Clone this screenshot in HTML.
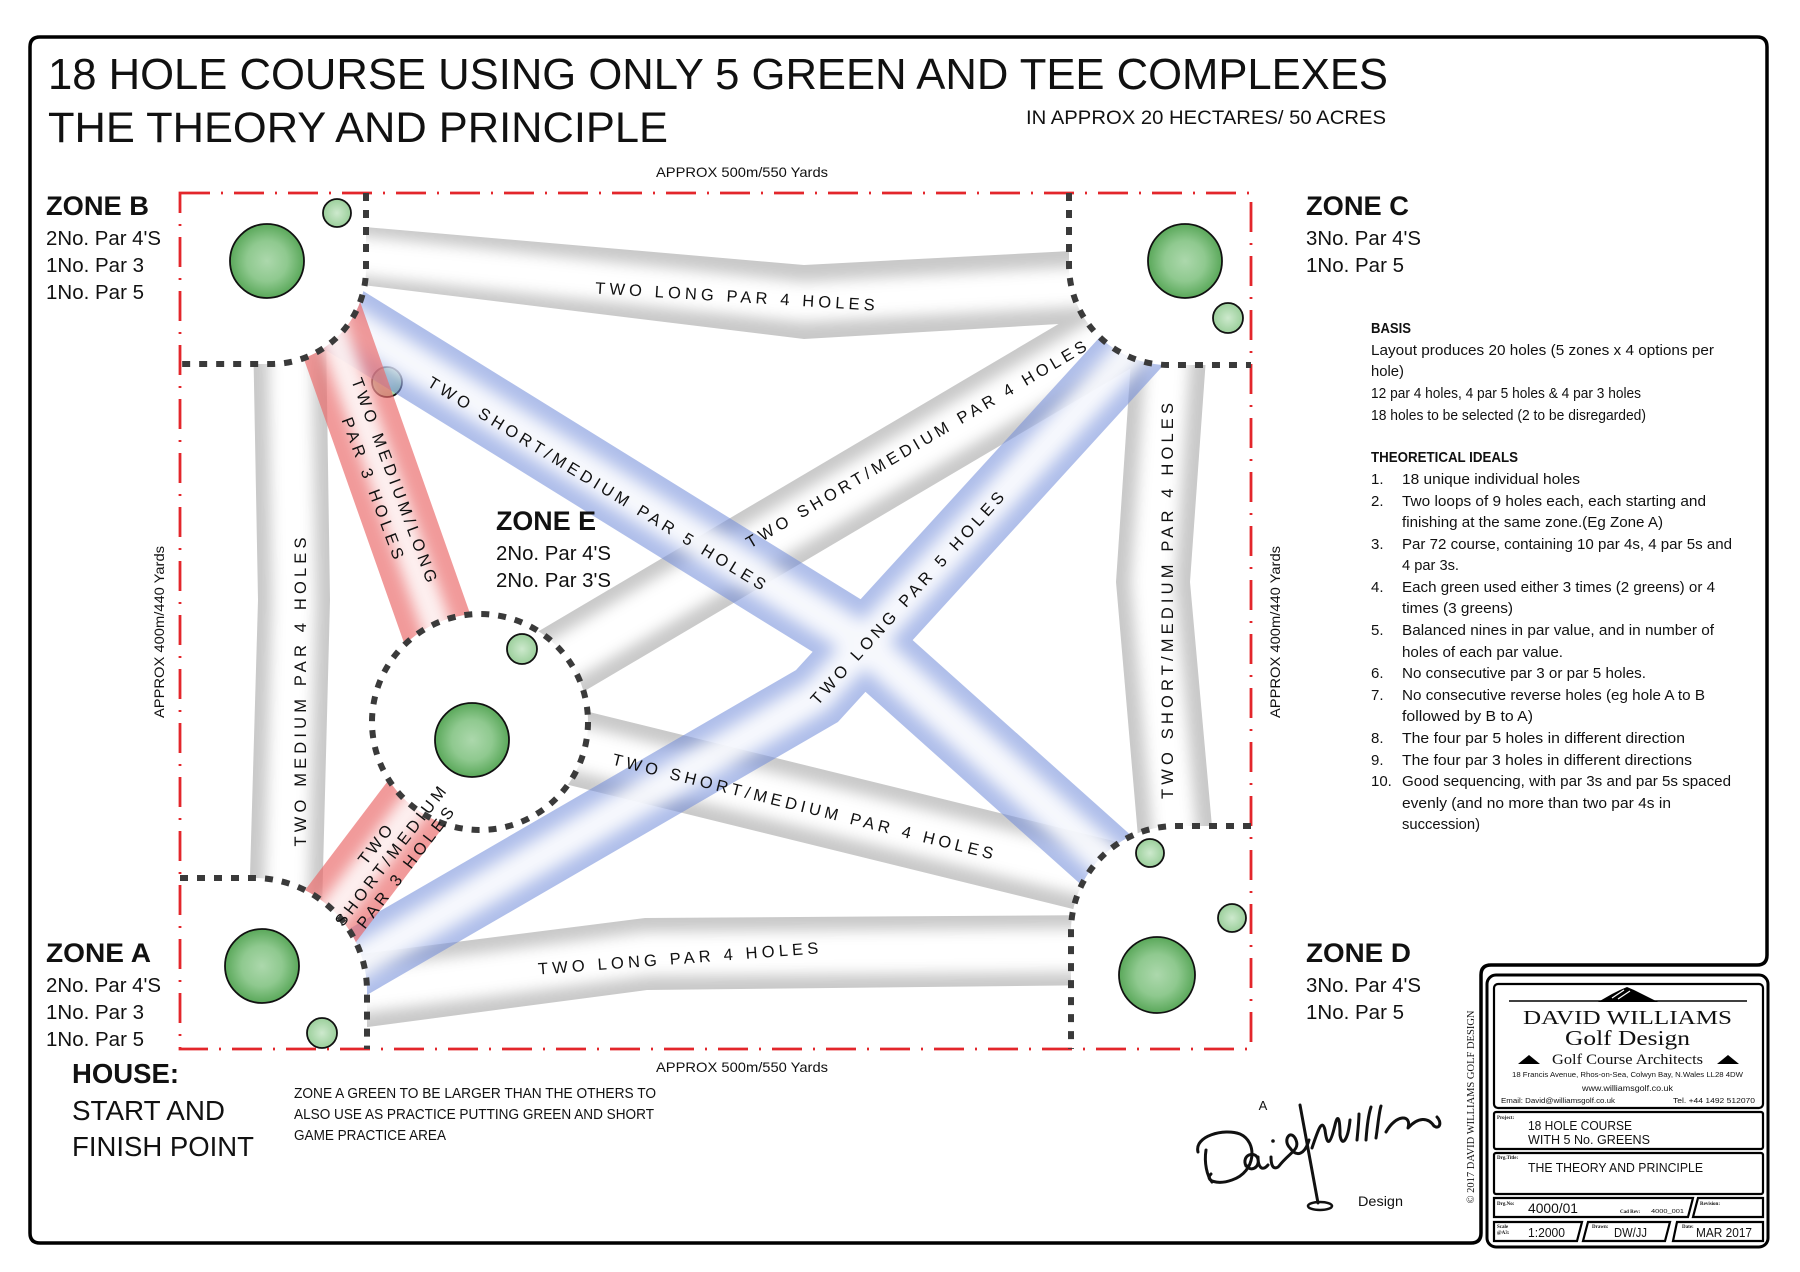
<!DOCTYPE html>
<html><head><meta charset="utf-8"><style>
html,body{margin:0;padding:0;background:#fff;}
svg{display:block;}
text{font-family:"Liberation Sans",sans-serif;fill:#111;}
.lbl{font-size:16.5px;}
</style></head><body>
<svg xmlns="http://www.w3.org/2000/svg" width="1800" height="1272" viewBox="0 0 1800 1272">
<defs>
<filter id="bl" filterUnits="userSpaceOnUse" x="0" y="0" width="1800" height="1272"><feGaussianBlur stdDeviation="7"/></filter>
<filter id="bl2" filterUnits="userSpaceOnUse" x="0" y="0" width="1800" height="1272"><feGaussianBlur stdDeviation="8"/></filter>
<radialGradient id="gr" cx="50%" cy="50%" r="50%"><stop offset="0" stop-color="#acd8ac"/><stop offset="0.55" stop-color="#8fc98f"/><stop offset="1" stop-color="#5aa85a"/></radialGradient>
<radialGradient id="tg" cx="50%" cy="50%" r="50%"><stop offset="0" stop-color="#cde9cd"/><stop offset="1" stop-color="#9bcf9b"/></radialGradient>
</defs>
<rect width="1800" height="1272" fill="#fff"/>

<path d="M40,37 H1757 Q1767,37 1767,47 V955 Q1767,965 1757,965 H1491 Q1481,965 1481,975 V1233 Q1481,1243 1471,1243 H40 Q30,1243 30,1233 V47 Q30,37 40,37 Z" fill="none" stroke="#000" stroke-width="3.5"/>

<text x="48" y="89" font-size="44" textLength="1340" lengthAdjust="spacingAndGlyphs">18 HOLE COURSE USING ONLY 5 GREEN AND TEE COMPLEXES</text>
<text x="48" y="142" font-size="43" textLength="620" lengthAdjust="spacingAndGlyphs">THE THEORY AND PRINCIPLE</text>
<text x="1026" y="124" font-size="19" textLength="360" lengthAdjust="spacingAndGlyphs">IN APPROX 20 HECTARES/ 50 ACRES</text>
<text x="656" y="177" font-size="14" textLength="172" lengthAdjust="spacingAndGlyphs">APPROX 500m/550 Yards</text>
<text x="656" y="1072" font-size="14" textLength="172" lengthAdjust="spacingAndGlyphs">APPROX 500m/550 Yards</text>
<text transform="translate(164,632) rotate(-90)" text-anchor="middle" font-size="14" textLength="172" lengthAdjust="spacingAndGlyphs">APPROX 400m/440 Yards</text>
<text transform="translate(1280,632) rotate(-90)" text-anchor="middle" font-size="14" textLength="172" lengthAdjust="spacingAndGlyphs">APPROX 400m/440 Yards</text>

<circle cx="387" cy="382" r="15" fill="url(#tg)" stroke="#111" stroke-width="1.8"/>

<g fill="#c9c9c9">
<polygon points="330,224 804,265 1110,249 1110,321 804,339 330,281"/>
<polygon points="330,958 645,918 1110,915 1110,985 647,990 330,1032"/>
<polygon points="253,330 258,600 249,910 322,910 330,600 326,330"/>
<polygon points="1133,330 1116,582 1140,860 1215,860 1190,582 1208,330"/>
<polygon points="500,654 1150,270 1150,357 500,741"/>
<polygon points="520,695 1150,850 1150,928 520,773"/>
</g>
<g filter="url(#bl)" fill="none" stroke="#fff" stroke-linejoin="miter">
<polyline points="330,253 804,302 1110,285" stroke-width="40"/>
<polyline points="330,995 646,954 1110,950" stroke-width="44"/>
<polyline points="290,330 294,600 286,910" stroke-width="44"/>
<polyline points="1170,330 1153,582 1177,860" stroke-width="44"/>
<polyline points="500,697 1150,313" stroke-width="46"/>
<polyline points="520,734 1150,889" stroke-width="46"/>
</g>

<g opacity="0.55" fill="none" stroke="#6f8ad9" stroke-linejoin="miter">
<polyline points="300,293 860,640 1125,877" stroke-width="70"/>
<polyline points="320,984 817,696 1150,331" stroke-width="66"/>
</g>
<g opacity="0.9" filter="url(#bl2)" fill="none" stroke="#fff">
<polyline points="300,293 860,640 1125,877" stroke-width="36"/>
<polyline points="320,984 817,696 1150,331" stroke-width="34"/>
</g>

<g opacity="0.68" fill="none" stroke="#ea6a6a">
<polyline points="310,268 450,665" stroke-width="72"/>
<polyline points="455,752 301,955" stroke-width="72"/>
</g>
<g opacity="0.85" filter="url(#bl)" fill="none" stroke="#fff">
<polyline points="310,268 450,665" stroke-width="30"/>
<polyline points="455,752 301,955" stroke-width="30"/>
</g>

<g fill="#fff">
<path d="M180,193 H366 V269 A95,95 0 0 1 271,364 H180 Z"/>
<path d="M1251,193 H1069 V265 A100,100 0 0 0 1169,365 H1251 Z"/>
<path d="M180,878 H254 A113,113 0 0 1 367,991 V1049 H180 Z"/>
<path d="M1251,826 H1176 A105,105 0 0 0 1071,931 V1049 H1251 Z"/>
<circle cx="480" cy="722" r="108"/>
</g>

<rect x="180" y="193" width="1071" height="856" fill="none" stroke="#e3262b" stroke-width="2.8" stroke-dasharray="30 11 2 11"/>

<g fill="none" stroke="#3a3a3a" stroke-width="6" stroke-dasharray="8 9">
<path d="M366,193 V269 A95,95 0 0 1 271,364 H180"/>
<path d="M1069,193 V265 A100,100 0 0 0 1169,365 H1251"/>
<path d="M180,878 H254 A113,113 0 0 1 367,991 V1049"/>
<path d="M1251,826 H1176 A105,105 0 0 0 1071,931 V1049"/>
<circle cx="480" cy="722" r="108"/>
</g>

<g stroke="#111" stroke-width="1.8">
<circle cx="267" cy="261" r="37" fill="url(#gr)"/>
<circle cx="1185" cy="261" r="37" fill="url(#gr)"/>
<circle cx="262" cy="966" r="37" fill="url(#gr)"/>
<circle cx="1157" cy="975" r="38" fill="url(#gr)"/>
<circle cx="472" cy="740" r="37" fill="url(#gr)"/>
<circle cx="337" cy="213" r="14" fill="url(#tg)"/>
<circle cx="1228" cy="318" r="15" fill="url(#tg)"/>
<circle cx="322" cy="1033" r="15" fill="url(#tg)"/>
<circle cx="1150" cy="853" r="14" fill="url(#tg)"/>
<circle cx="1232" cy="918" r="14" fill="url(#tg)"/>
<circle cx="522" cy="649" r="15" fill="url(#tg)"/>
</g>

<g text-anchor="middle">
<text class="lbl" text-anchor="middle" transform="translate(735,296) rotate(3.5)" y="6" textLength="280" lengthAdjust="spacing">TWO LONG PAR 4 HOLES</text>
<text class="lbl" text-anchor="middle" transform="translate(678,958) rotate(-4.3)" y="6" textLength="281" lengthAdjust="spacing">TWO LONG PAR 4 HOLES</text>
<text class="lbl" text-anchor="middle" transform="translate(300,692) rotate(-90)" y="6" textLength="309" lengthAdjust="spacing">TWO MEDIUM PAR 4 HOLES</text>
<text class="lbl" text-anchor="middle" transform="translate(1167,601) rotate(-90)" y="6" textLength="396" lengthAdjust="spacing">TWO SHORT/MEDIUM PAR 4 HOLES</text>
<text class="lbl" text-anchor="middle" transform="translate(916,444) rotate(-30.5)" y="6" textLength="392" lengthAdjust="spacing">TWO SHORT/MEDIUM PAR 4 HOLES</text>
<text class="lbl" text-anchor="middle" transform="translate(803,806) rotate(14)" y="6" textLength="392" lengthAdjust="spacing">TWO SHORT/MEDIUM PAR 4 HOLES</text>
<text class="lbl" text-anchor="middle" transform="translate(597,483) rotate(31.5)" y="6" textLength="393" lengthAdjust="spacing">TWO SHORT/MEDIUM PAR 5 HOLES</text>
<text class="lbl" text-anchor="middle" transform="translate(907,598) rotate(-48)" y="6" textLength="280" lengthAdjust="spacing">TWO LONG PAR 5 HOLES</text>
<g transform="translate(384,484) rotate(69.5)">
<text class="lbl" text-anchor="middle" y="-5.5" textLength="217" lengthAdjust="spacing">TWO MEDIUM/LONG</text>
<text class="lbl" text-anchor="middle" y="17.5" textLength="150" lengthAdjust="spacing">PAR 3 HOLES</text>
</g>
<g transform="translate(390,856) rotate(-52.5)">
<text class="lbl" text-anchor="middle" y="-13" textLength="45" lengthAdjust="spacing">TWO</text>
<text class="lbl" text-anchor="middle" y="6" textLength="171" lengthAdjust="spacing">SHORT/MEDIUM</text>
<text class="lbl" text-anchor="middle" y="25" textLength="148" lengthAdjust="spacing">PAR 3 HOLES</text>
</g>
</g>

<g font-size="20">
<text x="46" y="215" font-size="27" font-weight="bold" textLength="103" lengthAdjust="spacingAndGlyphs">ZONE B</text>
<text x="46" y="245" textLength="115" lengthAdjust="spacingAndGlyphs">2No. Par 4'S</text>
<text x="46" y="272" textLength="98" lengthAdjust="spacingAndGlyphs">1No. Par 3</text>
<text x="46" y="299" textLength="98" lengthAdjust="spacingAndGlyphs">1No. Par 5</text>

<text x="1306" y="215" font-size="27" font-weight="bold" textLength="103" lengthAdjust="spacingAndGlyphs">ZONE C</text>
<text x="1306" y="245" textLength="115" lengthAdjust="spacingAndGlyphs">3No. Par 4'S</text>
<text x="1306" y="272" textLength="98" lengthAdjust="spacingAndGlyphs">1No. Par 5</text>

<text x="46" y="962" font-size="27" font-weight="bold" textLength="105" lengthAdjust="spacingAndGlyphs">ZONE A</text>
<text x="46" y="992" textLength="115" lengthAdjust="spacingAndGlyphs">2No. Par 4'S</text>
<text x="46" y="1019" textLength="98" lengthAdjust="spacingAndGlyphs">1No. Par 3</text>
<text x="46" y="1046" textLength="98" lengthAdjust="spacingAndGlyphs">1No. Par 5</text>

<text x="1306" y="962" font-size="27" font-weight="bold" textLength="105" lengthAdjust="spacingAndGlyphs">ZONE D</text>
<text x="1306" y="992" textLength="115" lengthAdjust="spacingAndGlyphs">3No. Par 4'S</text>
<text x="1306" y="1019" textLength="98" lengthAdjust="spacingAndGlyphs">1No. Par 5</text>

<text x="496" y="530" font-size="27" font-weight="bold" textLength="100" lengthAdjust="spacingAndGlyphs">ZONE E</text>
<text x="496" y="560" textLength="115" lengthAdjust="spacingAndGlyphs">2No. Par 4'S</text>
<text x="496" y="587" textLength="115" lengthAdjust="spacingAndGlyphs">2No. Par 3'S</text>
</g>

<text x="72" y="1083" font-size="28" font-weight="bold" textLength="107" lengthAdjust="spacingAndGlyphs">HOUSE:</text>
<text x="72" y="1120" font-size="28" textLength="153" lengthAdjust="spacingAndGlyphs">START AND</text>
<text x="72" y="1156" font-size="28" textLength="182" lengthAdjust="spacingAndGlyphs">FINISH POINT</text>
<g font-size="14.5">
<text x="294" y="1098" textLength="362" lengthAdjust="spacingAndGlyphs">ZONE A GREEN TO BE LARGER THAN THE OTHERS TO</text>
<text x="294" y="1119" textLength="360" lengthAdjust="spacingAndGlyphs">ALSO USE AS PRACTICE PUTTING GREEN AND SHORT</text>
<text x="294" y="1140" textLength="152" lengthAdjust="spacingAndGlyphs">GAME PRACTICE AREA</text>
</g>

<g font-size="15">
<text x="1371" y="333" font-weight="bold" textLength="40" lengthAdjust="spacingAndGlyphs">BASIS</text>
<text x="1371" y="355" textLength="343" lengthAdjust="spacingAndGlyphs">Layout produces 20 holes (5 zones x 4 options per</text>
<text x="1371" y="376" textLength="33" lengthAdjust="spacingAndGlyphs">hole)</text>
<text x="1371" y="398" textLength="270" lengthAdjust="spacingAndGlyphs">12 par 4 holes, 4 par 5 holes &amp; 4 par 3 holes</text>
<text x="1371" y="420" textLength="275" lengthAdjust="spacingAndGlyphs">18 holes to be selected (2 to be disregarded)</text>

<text x="1371" y="462" font-weight="bold" textLength="147" lengthAdjust="spacingAndGlyphs">THEORETICAL IDEALS</text>
<text x="1371" y="484">1.</text><text x="1402" y="484" textLength="178" lengthAdjust="spacingAndGlyphs">18 unique individual holes</text>
<text x="1371" y="506">2.</text><text x="1402" y="506" textLength="304" lengthAdjust="spacingAndGlyphs">Two loops of 9 holes each, each starting and</text>
<text x="1402" y="527" textLength="261" lengthAdjust="spacingAndGlyphs">finishing at the same zone.(Eg Zone A)</text>
<text x="1371" y="549">3.</text><text x="1402" y="549" textLength="330" lengthAdjust="spacingAndGlyphs">Par 72 course, containing 10 par 4s, 4 par 5s and</text>
<text x="1402" y="570" textLength="57" lengthAdjust="spacingAndGlyphs">4 par 3s.</text>
<text x="1371" y="592">4.</text><text x="1402" y="592" textLength="313" lengthAdjust="spacingAndGlyphs">Each green used either 3 times (2 greens) or 4</text>
<text x="1402" y="613" textLength="111" lengthAdjust="spacingAndGlyphs">times (3 greens)</text>
<text x="1371" y="635">5.</text><text x="1402" y="635" textLength="312" lengthAdjust="spacingAndGlyphs">Balanced nines in par value, and in number of</text>
<text x="1402" y="657" textLength="161" lengthAdjust="spacingAndGlyphs">holes of each par value.</text>
<text x="1371" y="678">6.</text><text x="1402" y="678" textLength="244" lengthAdjust="spacingAndGlyphs">No consecutive par 3 or par 5 holes.</text>
<text x="1371" y="700">7.</text><text x="1402" y="700" textLength="303" lengthAdjust="spacingAndGlyphs">No consecutive reverse holes (eg hole A to B</text>
<text x="1402" y="721" textLength="131" lengthAdjust="spacingAndGlyphs">followed by B to A)</text>
<text x="1371" y="743">8.</text><text x="1402" y="743" textLength="283" lengthAdjust="spacingAndGlyphs">The four par 5 holes in different direction</text>
<text x="1371" y="765">9.</text><text x="1402" y="765" textLength="290" lengthAdjust="spacingAndGlyphs">The four par 3 holes in different directions</text>
<text x="1371" y="786">10.</text><text x="1402" y="786" textLength="329" lengthAdjust="spacingAndGlyphs">Good sequencing, with par 3s and par 5s spaced</text>
<text x="1402" y="808" textLength="269" lengthAdjust="spacingAndGlyphs">evenly (and no more than two par 4s in</text>
<text x="1402" y="829" textLength="78" lengthAdjust="spacingAndGlyphs">succession)</text>
</g>

<text x="1263" y="1110" font-size="13" text-anchor="middle">A</text>
<text x="1358" y="1206" font-size="14" textLength="45" lengthAdjust="spacingAndGlyphs">Design</text>
<g fill="none" stroke="#111" stroke-width="3" stroke-linecap="round" stroke-linejoin="round">
<path d="M1206,1150 C1204,1163 1207,1176 1212,1182"/>
<path d="M1198,1152 C1194,1136 1224,1128 1240,1134 C1258,1142 1256,1172 1232,1180 C1218,1185 1204,1181 1211,1174"/>
<path d="M1246,1166 C1241,1155 1255,1150 1258,1159 C1260,1168 1250,1172 1247,1166 M1258,1157 C1258,1167 1262,1172 1268,1165"/>
<path d="M1271,1157 C1271,1165 1273,1170 1278,1167"/>
<path d="M1279,1166 C1290,1152 1300,1150 1296,1140 C1291,1128 1282,1140 1290,1148 C1297,1158 1305,1154 1309,1140"/>
<path d="M1300,1105 L1318,1203"/>
<path d="M1312,1148 C1318,1130 1322,1118 1325,1130 C1327,1146 1330,1146 1335,1125 C1338,1112 1340,1120 1340,1135 C1342,1148 1348,1140 1350,1120"/>
<path d="M1357,1140 C1358,1130 1359,1120 1359,1114"/>
<path d="M1366,1140 C1367,1126 1369,1113 1371,1107"/>
<path d="M1376,1138 C1378,1125 1379,1112 1381,1106"/>
<path d="M1386,1132 C1396,1114 1412,1114 1408,1128 C1418,1117 1428,1117 1434,1126 C1440,1130 1442,1122 1437,1117"/>
</g>
<circle cx="1273" cy="1141" r="1.8" fill="#111"/>
<ellipse cx="1320" cy="1206" rx="12" ry="4" fill="none" stroke="#111" stroke-width="2.5"/>

<text transform="translate(1474,1107) rotate(-90)" text-anchor="middle" font-size="10.5" textLength="193" lengthAdjust="spacingAndGlyphs" style="font-family:'Liberation Serif',serif">© 2017 DAVID WILLIAMS GOLF DESIGN</text>

<rect x="1487" y="975" width="281" height="272" rx="9" fill="none" stroke="#000" stroke-width="3"/>
<g fill="none" stroke="#000" stroke-width="2.2">
<rect x="1494" y="984" width="269" height="124" rx="4"/>
<rect x="1494" y="1112" width="269" height="37" rx="2"/>
<rect x="1494" y="1153" width="269" height="41" rx="2"/>
<path d="M1494,1198 H1693 L1688,1217 H1494 Z"/>
<path d="M1698,1198 H1763 V1217 H1693 Z"/>
<path d="M1494,1222 H1582 L1577,1241 H1494 Z"/>
<path d="M1588,1222 H1670 L1665,1241 H1583 Z"/>
<path d="M1677,1222 H1763 V1241 H1673 Z"/>
</g>
<line x1="1509" y1="1001" x2="1747" y2="1001" stroke="#000" stroke-width="1.5"/>
<polygon points="1598,1002 1612,994 1620,990 1627,987 1634,990 1642,994 1658,1002" fill="#000"/>
<g stroke="#fff" stroke-width="1.2"><line x1="1612" y1="998" x2="1624" y2="990"/><line x1="1618" y1="999" x2="1630" y2="991"/></g>
<polygon points="1518,1064 1529,1055 1540,1064" fill="#000"/>
<polygon points="1717,1064 1728,1055 1739,1064" fill="#000"/>
<text x="1523" y="1024" font-size="20" textLength="209" lengthAdjust="spacingAndGlyphs" style="font-family:'Liberation Serif',serif">DAVID WILLIAMS</text>
<text x="1565" y="1045" font-size="21" textLength="125" lengthAdjust="spacingAndGlyphs" style="font-family:'Liberation Serif',serif">Golf Design</text>
<text x="1552" y="1064" font-size="15" textLength="151" lengthAdjust="spacingAndGlyphs" style="font-family:'Liberation Serif',serif">Golf Course Architects</text>
<text x="1512" y="1077" font-size="7.5" textLength="231" lengthAdjust="spacingAndGlyphs">18 Francis Avenue, Rhos-on-Sea, Colwyn Bay, N.Wales LL28 4DW</text>
<text x="1582" y="1091" font-size="8" textLength="91" lengthAdjust="spacingAndGlyphs">www.williamsgolf.co.uk</text>
<text x="1501" y="1103" font-size="7.5" textLength="114" lengthAdjust="spacingAndGlyphs">Email: David@williamsgolf.co.uk</text>
<text x="1673" y="1103" font-size="7.5" textLength="82" lengthAdjust="spacingAndGlyphs">Tel. +44 1492 512070</text>
<g font-size="5" font-weight="bold">
<text x="1497" y="1119" style="font-family:'Liberation Serif',serif">Project:</text>
<text x="1497" y="1159" style="font-family:'Liberation Serif',serif">Drg.Title:</text>
<text x="1497" y="1205" style="font-family:'Liberation Serif',serif">Drg.No:</text>
<text x="1620" y="1213" style="font-family:'Liberation Serif',serif">Cad Rev:</text>
<text x="1700" y="1205" style="font-family:'Liberation Serif',serif">Revision:</text>
<text x="1497" y="1228" style="font-family:'Liberation Serif',serif">Scale</text>
<text x="1497" y="1234" style="font-family:'Liberation Serif',serif">@A3:</text>
<text x="1592" y="1228" style="font-family:'Liberation Serif',serif">Drawn:</text>
<text x="1682" y="1228" style="font-family:'Liberation Serif',serif">Date:</text>
</g>
<g font-size="13">
<text x="1528" y="1130" textLength="104" lengthAdjust="spacingAndGlyphs">18 HOLE COURSE</text>
<text x="1528" y="1144" textLength="122" lengthAdjust="spacingAndGlyphs">WITH 5 No. GREENS</text>
<text x="1528" y="1172" textLength="175" lengthAdjust="spacingAndGlyphs">THE THEORY AND PRINCIPLE</text>
<text x="1528" y="1213" font-size="14" textLength="50" lengthAdjust="spacingAndGlyphs">4000/01</text>
<text x="1528" y="1237" textLength="37" lengthAdjust="spacingAndGlyphs">1:2000</text>
<text x="1614" y="1237" textLength="33" lengthAdjust="spacingAndGlyphs">DW/JJ</text>
<text x="1696" y="1237" textLength="56" lengthAdjust="spacingAndGlyphs">MAR 2017</text>
</g>
<text x="1651" y="1213" font-size="5.5" textLength="33" lengthAdjust="spacingAndGlyphs">4000_001</text>
</svg>
</body></html>
